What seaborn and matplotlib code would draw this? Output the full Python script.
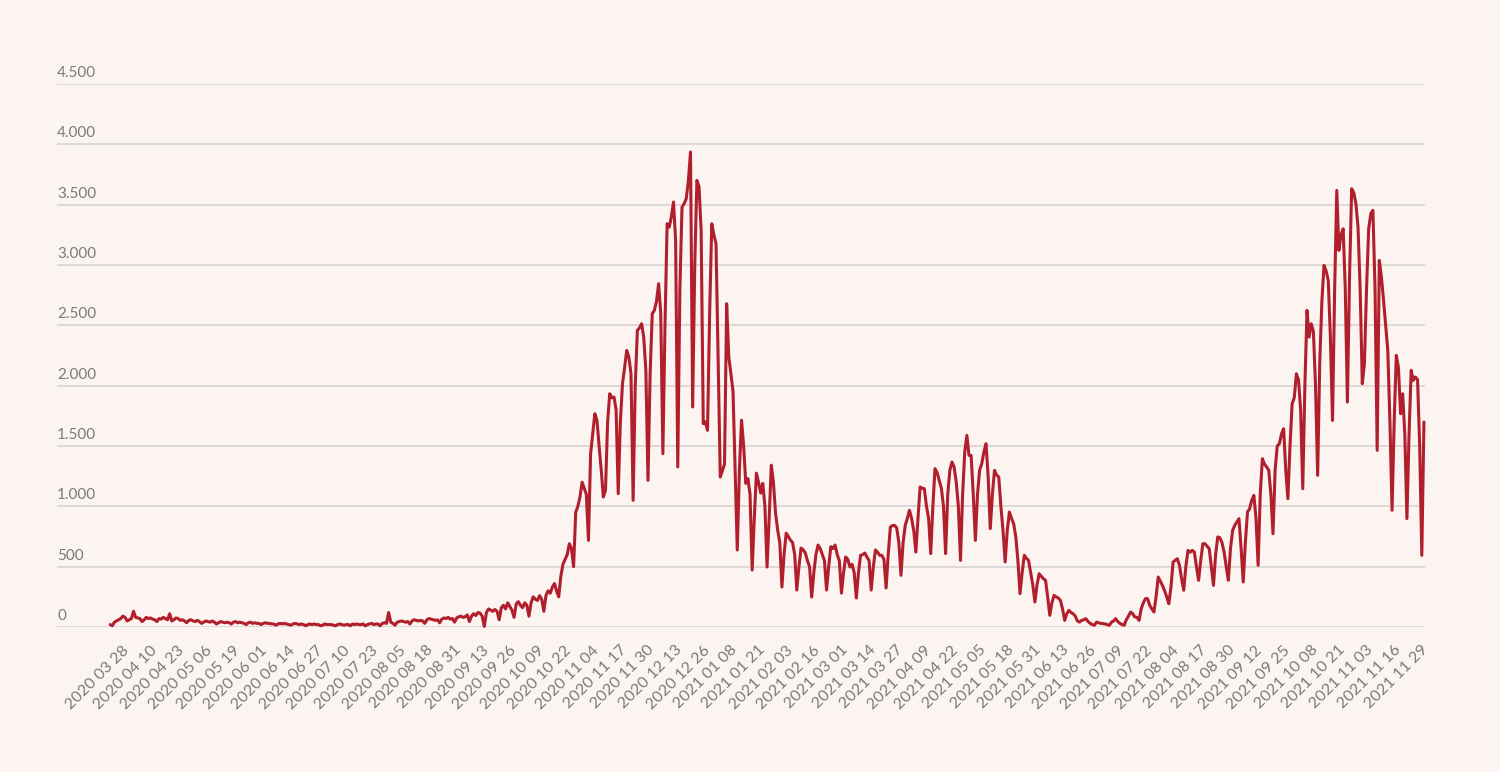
import matplotlib.pyplot as plt
import matplotlib.transforms as mtransforms
import pandas as pd
import seaborn as sns

# daily series, one row per week (Sat .. Fri), first day 2020-03-28
start_date = "2020-03-28"
daily_values = [
    20, 10, 40, 50, 60, 70, 90,
    80, 50, 60, 70, 130, 80, 75,
    70, 45, 60, 80, 70, 75, 65,
    60, 45, 70, 65, 80, 70, 60,
    110, 50, 60, 75, 70, 55, 60,
    50, 35, 55, 60, 50, 45, 55,
    45, 30, 40, 50, 45, 40, 50,
    40, 25, 35, 45, 40, 35, 40,
    35, 25, 40, 45, 35, 40, 35,
    30, 20, 35, 40, 30, 35, 30,
    30, 20, 30, 35, 30, 30, 25,
    25, 15, 25, 30, 25, 30, 25,
    20, 15, 25, 30, 25, 20, 25,
    20, 10, 20, 25, 20, 25, 20,
    20, 10, 15, 25, 20, 20, 20,
    15, 10, 20, 25, 20, 15, 20,
    20, 10, 25, 20, 25, 20, 20,
    25, 10, 20, 25, 30, 20, 25,
    25, 10, 30, 35, 30, 120, 40,
    30, 15, 40, 45, 50, 45, 40,
    45, 25, 50, 60, 55, 50, 55,
    50, 30, 60, 70, 65, 60, 55,
    60, 35, 65, 75, 70, 80, 65,
    70, 40, 75, 85, 90, 80, 85,
    100, 45, 90, 110, 95, 120, 115,
    90, 5, 120, 150, 140, 130, 145,
    130, 60, 160, 180, 150, 200, 170,
    140, 80, 190, 210, 180, 160, 200,
    180, 90, 200, 250, 230, 220, 260,
    230, 130, 260, 300, 280, 330, 360,
    300, 250, 420, 520, 560, 600, 690,
    650, 500, 950, 1000, 1077, 1200, 1150,
    1100, 718, 1436, 1600, 1768, 1712, 1500,
    1300, 1077, 1132, 1700, 1933, 1900, 1905,
    1800, 1105, 1700, 2016, 2150, 2292, 2237,
    2100, 1050, 2000, 2458, 2480, 2513, 2400,
    2127, 1215, 2100, 2596, 2624, 2700, 2845,
    2600, 1436, 2500, 3342, 3314, 3400, 3522,
    3200, 1326, 2800, 3480, 3508, 3550, 3700,
    3936, 1823, 3000, 3701, 3650, 3287, 1685,
    1700, 1630, 2600, 3342, 3250, 3176, 2200,
    1243, 1298, 1350, 2679, 2237, 2100, 1950,
    1300, 638, 1300, 1714, 1500, 1190, 1230,
    1100, 472, 900, 1275, 1200, 1110, 1190,
    1000, 497, 900, 1341, 1200, 944, 803,
    700, 331, 600, 778, 750, 720, 700,
    600, 306, 500, 654, 640, 613, 550,
    500, 248, 450, 600, 679, 650, 600,
    550, 306, 500, 666, 650, 679, 600,
    550, 281, 450, 580, 560, 497, 520,
    450, 240, 450, 594, 600, 613, 580,
    550, 306, 500, 638, 620, 594, 594,
    560, 323, 600, 828, 840, 842, 820,
    700, 428, 700, 842, 900, 967, 900,
    800, 621, 900, 1160, 1150, 1146, 1000,
    900, 608, 1000, 1312, 1280, 1215, 1150,
    1000, 608, 1100, 1300, 1367, 1326, 1200,
    1000, 552, 1100, 1450, 1588, 1422, 1422,
    1100, 718, 1100, 1300, 1353, 1450, 1519,
    1250, 815, 1100, 1298, 1260, 1243, 1000,
    800, 539, 800, 953, 900, 856, 750,
    550, 276, 450, 594, 570, 552, 450,
    350, 207, 350, 442, 420, 400, 387,
    250, 97, 200, 262, 250, 240, 221,
    150, 55, 110, 138, 120, 110, 90,
    50, 41, 55, 60, 69, 45, 30,
    20, 14, 41, 35, 30, 28, 25,
    20, 14, 40, 50, 69, 45, 30,
    20, 14, 60, 90, 124, 110, 83,
    80, 55, 150, 200, 235, 235, 180,
    150, 124, 250, 414, 380, 345, 300,
    250, 193, 331, 539, 552, 566, 511,
    400, 304, 500, 635, 620, 635, 621,
    500, 387, 550, 690, 690, 670, 649,
    500, 345, 600, 746, 740, 700, 621,
    500, 387, 650, 800, 842, 870, 898,
    650, 373, 700, 953, 980, 1050, 1091,
    900, 511, 1100, 1395, 1350, 1326, 1300,
    1100, 773, 1300, 1500, 1519, 1600, 1643,
    1300, 1063, 1500, 1850, 1900, 2099, 2050,
    1800, 1146, 2000, 2624, 2403, 2513, 2450,
    2000, 1257, 2200, 2700, 2997, 2950, 2872,
    2400, 1712, 2800, 3618, 3121, 3250, 3300,
    2800, 1864, 2900, 3632, 3600, 3508, 3314,
    2800, 2016, 2182, 2800, 3300, 3425, 3453,
    2800, 1464, 3038, 2900, 2707, 2500, 2292,
    1700, 967, 1700, 2251, 2150, 1768, 1933,
    1600, 898, 1600, 2127, 2044, 2072, 2050,
    1500, 594, 1699,
]

y_ticks = [0, 500, 1000, 1500, 2000, 2500, 3000, 3500, 4000, 4500]
last_tick_date = "2021-11-29"
tick_step = "13D"

bg_color = "#fcf4f1"
line_color = "#b11f2d"
grid_color = "#d6d1d0"
text_color = "#7a7a7a"

dates = pd.date_range(start_date, periods=len(daily_values), freq="D")
df = pd.DataFrame({"date": dates, "value": daily_values})

sns.set_theme(style="white")
plt.rcParams["font.family"] = ["Lato", "DejaVu Sans"]

fig = plt.figure(figsize=(15, 7.72), dpi=100, facecolor=bg_color)
ax = fig.add_axes([57 / 1500, 1 - 627 / 772, (1425 - 57) / 1500, (627 - 84) / 772])
ax.set_facecolor(bg_color)

sns.lineplot(data=df, x="date", y="value", color=line_color, linewidth=2.2,
             ax=ax, clip_on=False)

ax.set_xlim(dates[0] - pd.Timedelta(days=25), dates[-1] + pd.Timedelta(hours=12))
ax.set_ylim(0, 4500)
for side in ["top", "right", "left", "bottom"]:
    ax.spines[side].set_visible(False)

# horizontal grid with labels sitting above each line
ax.set_yticks(y_ticks)
ax.set_yticklabels([])
ax.tick_params(axis="y", length=0)
ax.yaxis.grid(True, color=grid_color, linewidth=1.1)
ax.set_axisbelow(True)
lab_trans = mtransforms.blended_transform_factory(ax.transAxes, ax.transData)
lab_trans = lab_trans + mtransforms.ScaledTranslation(0, 7 / 100, fig.dpi_scale_trans)
for v in y_ticks:
    ax.text(0, v, f"{v:,}".replace(",", "."), transform=lab_trans, ha="left",
            va="baseline", fontsize=11, color=text_color)

# rotated date labels
tick_dates = pd.date_range(start_date, last_tick_date, freq=tick_step)
ax.set_xticks(tick_dates)
ax.set_xticklabels([d.strftime("%Y %m %d") for d in tick_dates])
ax.tick_params(axis="x", length=0, pad=0)
shift = mtransforms.ScaledTranslation(17 / 100, -21 / 100, fig.dpi_scale_trans)
for lab in ax.get_xticklabels():
    lab.set_rotation(45)
    lab.set_ha("right")
    lab.set_va("center")
    lab.set_rotation_mode("anchor")
    lab.set_fontsize(11.5)
    lab.set_color(text_color)
    lab.set_transform(lab.get_transform() + shift)

ax.set_xlabel("")
ax.set_ylabel("")

fig.savefig("out.png", dpi=100, facecolor=bg_color)
